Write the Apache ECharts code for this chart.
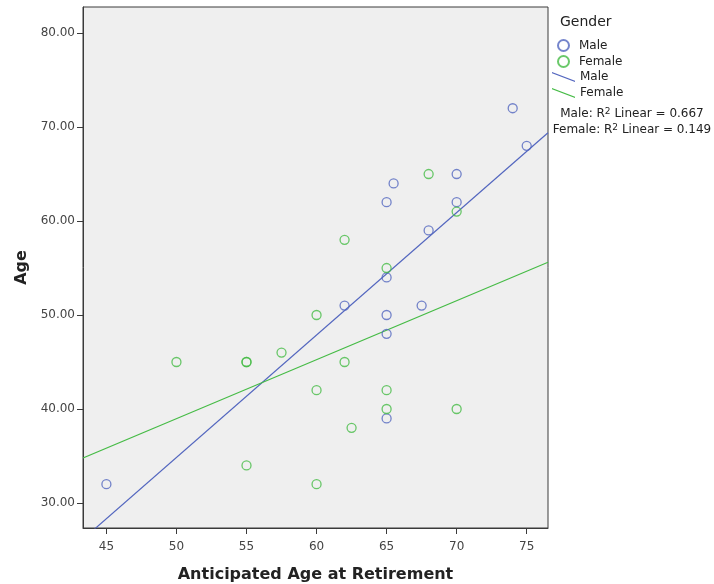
<!DOCTYPE html>
<html>
<head>
<meta charset="utf-8">
<script src="https://cdn.jsdelivr.net/npm/echarts@6/dist/echarts.min.js"></script>
<style>
  html, body { margin: 0; padding: 0; background: #ffffff; }
  #chart { width: 714px; height: 584px; }
</style>
</head>
<body>
<div id="chart"></div>
<script>
// Anticipated retirement age vs. current age, by gender
const maleRetire   = [45, 74, 75, 65.5, 70, 65, 70, 68, 65, 62, 67.5, 65, 65, 65];
const maleAge      = [32, 72, 68, 64,   65, 62, 62, 59, 54, 51, 51,   50, 48, 39];
const femaleRetire = [68, 70, 62, 65, 60, 57.5, 50, 55, 55, 62, 60, 65, 65, 70, 62.5, 55, 60];
const femaleAge    = [65, 61, 58, 55, 50, 46,   45, 45, 45, 45, 42, 42, 40, 40, 38,   34, 32];

const xTicks = [45, 50, 55, 60, 65, 70, 75];
const yTicks = [30, 40, 50, 60, 70, 80];

const X_MIN = 43.33, X_MAX = 76.52;
const Y_MIN = 27.34, Y_MAX = 82.77;

const BLUE = '#5366bf';
const GREEN = '#45bb45';

function pairs(xs, ys) { return xs.map((x, i) => [x, ys[i]]); }

// ordinary least squares fit, returns slope, intercept and R squared
function linearFit(xs, ys) {
  const n = xs.length;
  const mx = xs.reduce((a, b) => a + b, 0) / n;
  const my = ys.reduce((a, b) => a + b, 0) / n;
  let sxy = 0, sxx = 0, syy = 0;
  for (let i = 0; i < n; i++) {
    const dx = xs[i] - mx, dy = ys[i] - my;
    sxy += dx * dy; sxx += dx * dx; syy += dy * dy;
  }
  const slope = sxy / sxx;
  return { slope, intercept: my - slope * mx, r2: (sxy * sxy) / (sxx * syy) };
}

const maleFit = linearFit(maleRetire, maleAge);
const femaleFit = linearFit(femaleRetire, femaleAge);
const fitLine = f => [[X_MIN, f.intercept + f.slope * X_MIN], [X_MAX, f.intercept + f.slope * X_MAX]];

const FONT = '"DejaVu Sans", sans-serif';
const LINE_ICON = 'path://M0,0 L24,9 L24,10.4 L0,1.4 Z';

const chart = echarts.init(document.getElementById('chart'));
chart.setOption({
  animation: false,
  backgroundColor: '#ffffff',
  textStyle: { fontFamily: FONT },
  grid: {
    left: 83, top: 7, right: 166, bottom: 56,
    outerBoundsMode: 'none', containLabel: false,
    show: true, backgroundColor: '#efefef', borderColor: '#3a3a3a', borderWidth: 1
  },
  xAxis: {
    type: 'value', min: X_MIN, max: X_MAX,
    name: 'Anticipated Age at Retirement', nameLocation: 'middle', nameGap: 39,
    nameTextStyle: { fontFamily: FONT, fontWeight: 'bold', fontSize: 16, color: '#222' },
    axisLine: { show: true, onZero: false, lineStyle: { color: '#3a3a3a', width: 1 } },
    axisTick: { show: true, inside: false, customValues: xTicks, length: 6, lineStyle: { color: '#3a3a3a' } },
    axisLabel: { customValues: xTicks, color: '#444', fontSize: 12, margin: 13, fontFamily: FONT },
    splitLine: { show: false }
  },
  yAxis: {
    type: 'value', min: Y_MIN, max: Y_MAX,
    name: 'Age', nameLocation: 'middle', nameGap: 53, nameRotate: 90,
    nameTextStyle: { fontFamily: FONT, fontWeight: 'bold', fontSize: 16, color: '#222' },
    axisLine: { show: true, onZero: false, lineStyle: { color: '#3a3a3a', width: 1 } },
    axisTick: { show: true, inside: false, customValues: yTicks, length: 6, lineStyle: { color: '#3a3a3a' } },
    axisLabel: { customValues: yTicks, color: '#444', fontSize: 12, margin: 8, fontFamily: FONT,
      formatter: v => v.toFixed(2) },
    splitLine: { show: false }
  },
  legend: [
    {
      data: ['Male', 'Female'].map(n => ({ name: n })),
      orient: 'vertical', left: 557, top: 39, padding: 0,
      itemWidth: 11, itemHeight: 11, itemGap: 3,
      textStyle: { fontSize: 12, color: '#222', fontFamily: FONT, padding: [0, 0, 0, 5] },
      selectedMode: false
    },
    {
      data: [{ name: 'Male ', icon: LINE_ICON }, { name: 'Female ', icon: LINE_ICON }],
      orient: 'vertical', left: 552, top: 71, padding: 0,
      itemWidth: 23, itemHeight: 10, itemGap: 4,
      textStyle: { fontSize: 12, color: '#222', fontFamily: FONT },
      selectedMode: false
    }
  ],
  graphic: [
    { type: 'text', left: 560, top: 15,
      style: { text: 'Gender', font: '14px ' + FONT, fill: '#222' } },
    { type: 'text', x: 632, y: 114,
      style: {
        text: 'Male: R{sup|2} Linear = ' + maleFit.r2.toFixed(3),
        font: '12px ' + FONT, fill: '#222', align: 'center', verticalAlign: 'middle',
        rich: { sup: { fontSize: 9, fontFamily: FONT, verticalAlign: 'top', padding: [0, 0, 5, 0] } }
      } },
    { type: 'text', x: 632, y: 130,
      style: {
        text: 'Female: R{sup|2} Linear = ' + femaleFit.r2.toFixed(3),
        font: '12px ' + FONT, fill: '#222', align: 'center', verticalAlign: 'middle',
        rich: { sup: { fontSize: 9, fontFamily: FONT, verticalAlign: 'top', padding: [0, 0, 5, 0] } }
      } }
  ],
  series: [
    {
      name: 'Male', type: 'scatter', data: pairs(maleRetire, maleAge),
      symbol: 'circle', symbolSize: 9,
      itemStyle: { color: 'rgba(0,0,0,0)', borderColor: BLUE, borderWidth: 1.3 },
      z: 3
    },
    {
      name: 'Female', type: 'scatter', data: pairs(femaleRetire, femaleAge),
      symbol: 'circle', symbolSize: 9,
      itemStyle: { color: 'rgba(0,0,0,0)', borderColor: GREEN, borderWidth: 1.3 },
      z: 3
    },
    {
      name: 'Male ', type: 'line', data: fitLine(maleFit), clip: true,
      showSymbol: false, symbol: 'none',
      itemStyle: { color: BLUE }, lineStyle: { color: BLUE, width: 1.2 }, z: 2
    },
    {
      name: 'Female ', type: 'line', data: fitLine(femaleFit), clip: true,
      showSymbol: false, symbol: 'none',
      itemStyle: { color: GREEN }, lineStyle: { color: GREEN, width: 1.2 }, z: 2
    }
  ]
});
</script>
</body>
</html>
